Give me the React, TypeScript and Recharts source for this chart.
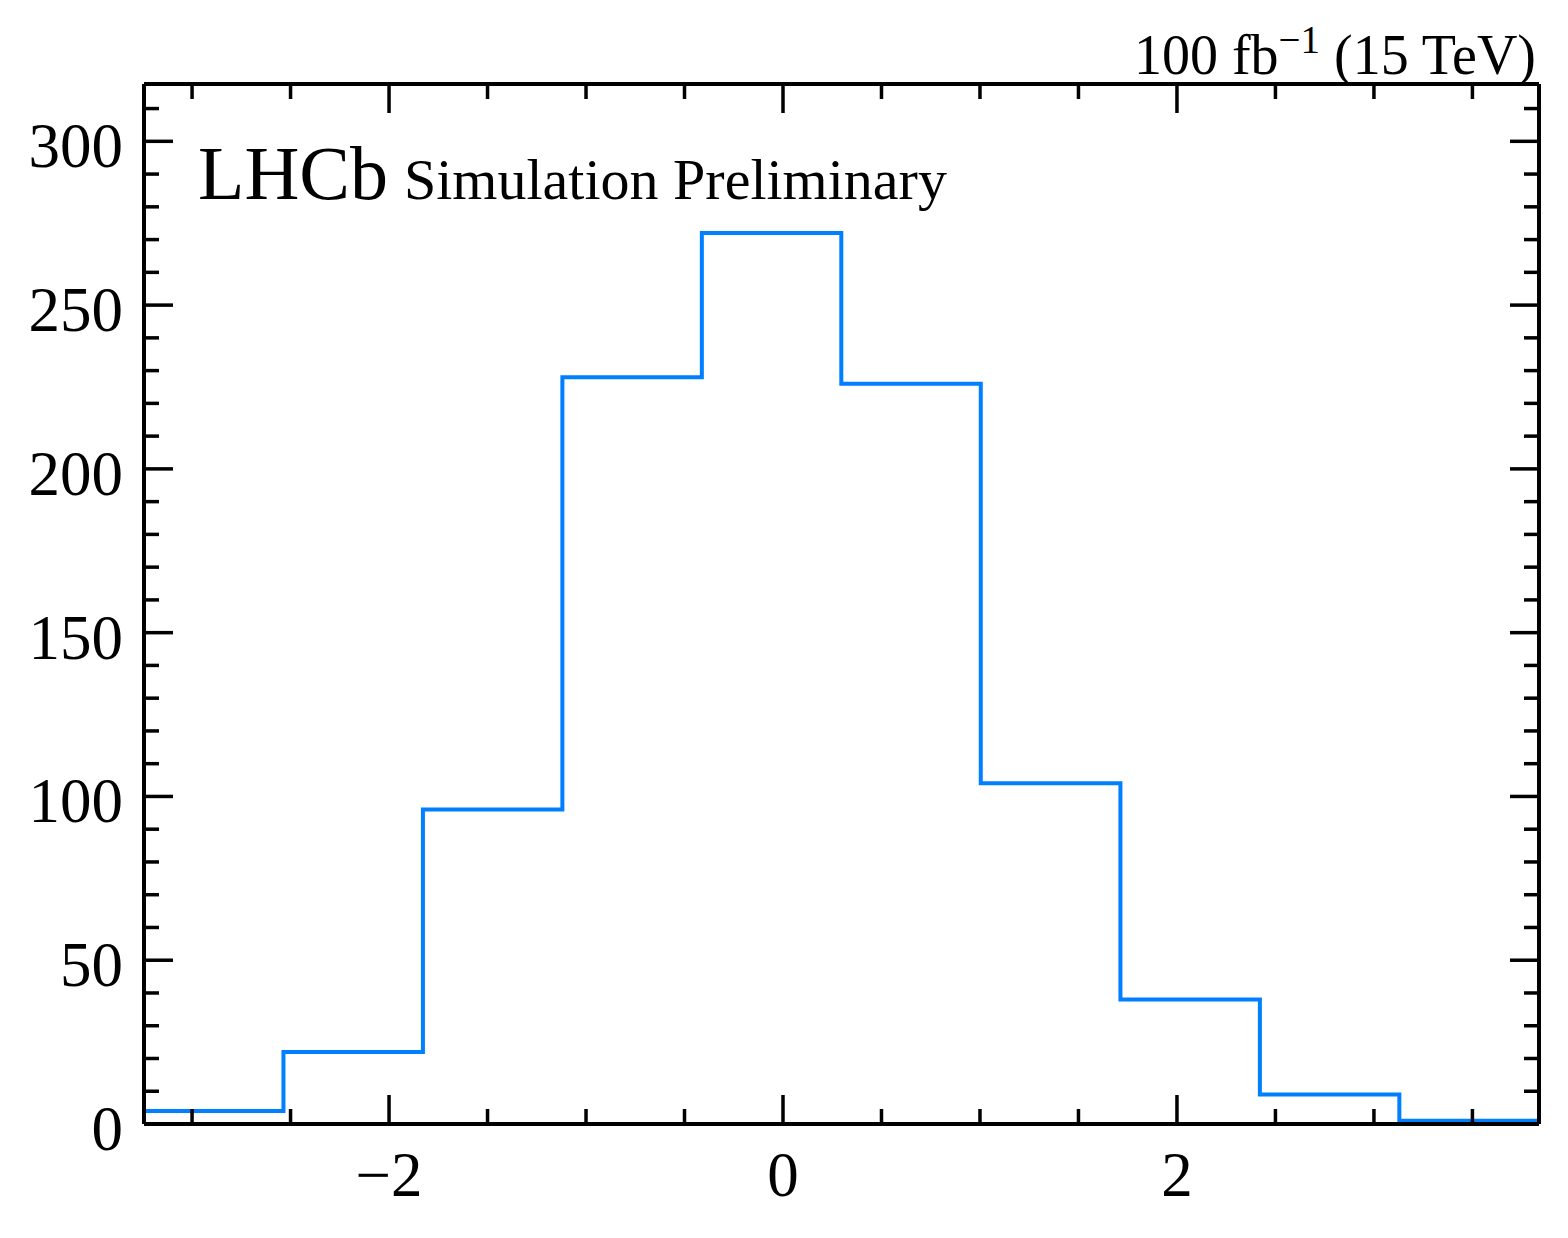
import React from "react";
import { ComposedChart, Line, XAxis, YAxis } from "recharts";

// histogram of 1000 toy events, 10 bins
const binEdges = [-3.244, -2.536, -1.828, -1.12, -0.412, 0.296, 1.004, 1.713, 2.421, 3.129, 3.838];
const counts = [4, 22, 96, 228, 272, 226, 104, 38, 9, 1];

const xMajorTicks = [-2, 0, 2];
const xMinorTicks = [-3, -2.5, -1.5, -1, -0.5, 0.5, 1, 1.5, 2.5, 3, 3.5];
const yMajorTicks = [0, 50, 100, 150, 200, 250, 300];
const yMinorTicks = [10, 20, 30, 40, 60, 70, 80, 90, 110, 120, 130, 140, 160, 170, 180, 190, 210, 220, 230, 240, 260, 270, 280, 290, 310];

const W = 1568;
const H = 1238;
const FONT = '"Liberation Serif", "Times New Roman", serif';
const BLUE = "#007fff";

const xTicks = [...xMinorTicks, ...xMajorTicks].sort((a, b) => a - b);
const yTicks = [...yMinorTicks, ...yMajorTicks].sort((a, b) => a - b);

// step outline, closed down to zero at both ends like histtype="step"
const stepData = [
  { x: binEdges[0], y: 0 },
  ...counts.map((c, i) => ({ x: binEdges[i], y: c })),
  { x: binEdges[binEdges.length - 1], y: counts[counts.length - 1] },
  { x: binEdges[binEdges.length - 1], y: 0 },
];

const fmt = (v: number) => (v < 0 ? "\u2212" + Math.abs(v) : String(v));

function makeTick(side: "bottom" | "top" | "left" | "right", majors: number[]) {
  return (props: any) => {
    const { x, y, payload } = props;
    const major = majors.includes(payload.value);
    const len = major ? 29 : 15;
    const line = { stroke: "#000", strokeWidth: 3.5 };
    if (side === "bottom")
      return (
        <g>
          <line x1={x} x2={x} y1={y} y2={y - len} {...line} />
          {major && (
            <text x={x} y={y + 72} textAnchor="middle" fontFamily={FONT} fontSize={63} fill="#000">
              {fmt(payload.value)}
            </text>
          )}
        </g>
      );
    if (side === "top") return <line x1={x} x2={x} y1={y} y2={y + len} {...line} />;
    if (side === "left")
      return (
        <g>
          <line x1={x} x2={x + len} y1={y} y2={y} {...line} />
          {major && (
            <text x={x - 21} y={y + 26} textAnchor="end" fontFamily={FONT} fontSize={63} fill="#000">
              {fmt(payload.value)}
            </text>
          )}
        </g>
      );
    return <line x1={x} x2={x - len} y1={y} y2={y} {...line} />;
  };
}

export default function App() {
  const axisLine = { stroke: "#000", strokeWidth: 4 };
  return (
    <div style={{ position: "absolute", left: 0, top: 0, width: W, height: H, background: "#fff" }}>
      <ComposedChart
        width={W}
        height={H}
        data={stepData}
        margin={{ top: 74, right: 19, bottom: 54, left: 84 }}
      >
        <XAxis
          xAxisId="bottom"
          type="number"
          dataKey="x"
          domain={[binEdges[0], binEdges[binEdges.length - 1]]}
          allowDataOverflow
          ticks={xTicks}
          interval={0}
          height={60}
          tickSize={0}
          tickMargin={0}
          tickLine={false}
          axisLine={axisLine}
          tick={makeTick("bottom", xMajorTicks)}
        />
        <XAxis
          xAxisId="top"
          orientation="top"
          type="number"
          dataKey="x"
          domain={[binEdges[0], binEdges[binEdges.length - 1]]}
          allowDataOverflow
          ticks={xTicks}
          interval={0}
          height={10}
          tickSize={0}
          tickMargin={0}
          tickLine={false}
          axisLine={axisLine}
          tick={makeTick("top", xMajorTicks)}
        />
        <YAxis
          yAxisId="left"
          type="number"
          domain={[0, 317.5]}
          allowDataOverflow
          ticks={yTicks}
          interval={0}
          width={60}
          tickSize={0}
          tickMargin={0}
          tickLine={false}
          axisLine={axisLine}
          tick={makeTick("left", yMajorTicks)}
        />
        <YAxis
          yAxisId="right"
          orientation="right"
          type="number"
          domain={[0, 317.5]}
          allowDataOverflow
          ticks={yTicks}
          interval={0}
          width={10}
          tickSize={0}
          tickMargin={0}
          tickLine={false}
          axisLine={axisLine}
          tick={makeTick("right", yMajorTicks)}
        />
        <Line
          xAxisId="top"
          yAxisId="right"
          dataKey="y"
          type="stepAfter"
          stroke="none"
          dot={false}
          activeDot={false}
          isAnimationActive={false}
        />
        <Line
          xAxisId="bottom"
          yAxisId="left"
          dataKey="y"
          type="stepAfter"
          stroke={BLUE}
          strokeWidth={4}
          dot={false}
          activeDot={false}
          isAnimationActive={false}
        />
      </ComposedChart>
      <svg width={W} height={H} style={{ position: "absolute", left: 0, top: 0, pointerEvents: "none" }}>
        <text x={198} y={199} fontFamily={FONT} fontSize={76} fill="#000">
          LHCb
        </text>
        <text x={404} y={199} fontFamily={FONT} fontSize={58} fill="#000">
          Simulation Preliminary
        </text>
        <text x={1536} y={74} textAnchor="end" fontFamily={FONT} fontSize={56} fill="#000">
          100 fb
          <tspan fontSize={39} dy={-21}>
            {"\u22121"}
          </tspan>
          <tspan dy={21}> (15 TeV)</tspan>
        </text>
      </svg>
    </div>
  );
}
